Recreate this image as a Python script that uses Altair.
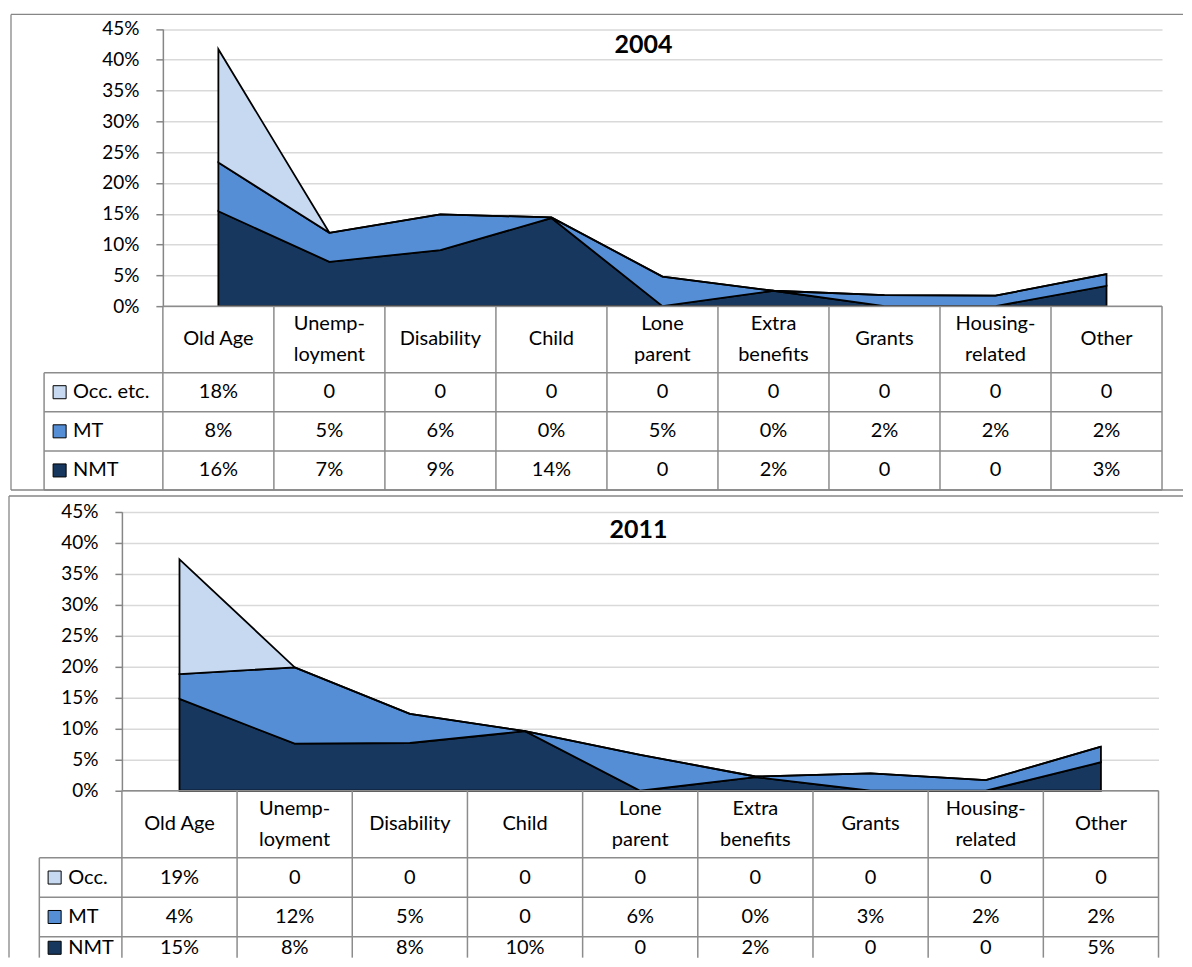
import altair as alt
import pandas as pd

# ---------------- data ----------------
CATEGORIES = ["Old Age", "Unemployment", "Disability", "Child", "Lone parent",
              "Extra benefits", "Grants", "Housing-related", "Other"]
HEADER_LABELS = [["Old Age"], ["Unemp-", "loyment"], ["Disability"], ["Child"],
                 ["Lone", "parent"], ["Extra", "benefits"], ["Grants"],
                 ["Housing-", "related"], ["Other"]]

# 2004 (percent of total)
NMT_2004 = [15.4, 7.2, 9.1, 14.3, 0.0, 2.5, 0.0, 0.0, 3.3]
MT_2004 = [7.9, 4.7, 5.8, 0.1, 4.8, 0.0, 1.8, 1.7, 1.9]
OCC_2004 = [18.4, 0.0, 0.0, 0.0, 0.0, 0.0, 0.0, 0.0, 0.0]
TBL_OCC_2004 = ["18%", "0", "0", "0", "0", "0", "0", "0", "0"]
TBL_MT_2004 = ["8%", "5%", "6%", "0%", "5%", "0%", "2%", "2%", "2%"]
TBL_NMT_2004 = ["16%", "7%", "9%", "14%", "0", "2%", "0", "0", "3%"]

# 2011
NMT_2011 = [14.8, 7.6, 7.7, 9.6, 0.0, 2.2, 0.0, 0.0, 4.6]
MT_2011 = [4.0, 12.3, 4.7, 0.0, 5.8, 0.1, 2.8, 1.7, 2.5]
OCC_2011 = [18.5, 0.0, 0.0, 0.0, 0.0, 0.0, 0.0, 0.0, 0.0]
TBL_OCC_2011 = ["19%", "0", "0", "0", "0", "0", "0", "0", "0"]
TBL_MT_2011 = ["4%", "12%", "5%", "0", "6%", "0%", "3%", "2%", "2%"]
TBL_NMT_2011 = ["15%", "8%", "8%", "10%", "0", "2%", "0", "0", "5%"]

Y_TICKS = [0, 5, 10, 15, 20, 25, 30, 35, 40, 45]

# ---------------- style / layout ----------------
SERIES = ["Occ", "MT", "NMT"]              # table rows, top to bottom
COLORS = ["#C6D9F1", "#558ED5", "#17375E"]
STACK_ORDER = {"NMT": 0, "MT": 1, "Occ": 2}
FONT = "Lato"
GRID = "#d9d9d9"
AXIS_GRAY = "#868686"
TABLE_GRAY = "#8c8c8c"
HEADER_ROWS = 1.7
ROW_UNITS = HEADER_ROWS + 3
LINE_STEP = 0.79          # header line spacing in row units
W = 1175

G2004 = dict(h=476, frame_left=2, frame_bottom=True,
             x_range=[154, 1154], y_range=[292, 14.5],
             row_range=[292, 476], rows_visible=ROW_UNITS, last_row_center=0.5,
             legend_left=-1.07, box_x=-0.93, text_x=-0.81,
             title_xy=(635, 31))
G2011 = dict(h=462, frame_left=0, frame_bottom=False,
             x_range=[113, 1150.5], y_range=[295, 15.7],
             row_range=[295, 480.6], rows_visible=4.23, last_row_center=0.28,
             legend_left=-0.717, box_x=-0.584, text_x=-0.466,
             title_xy=(630, 34))


def panel(title, nmt, mt, occ, occ_label, tbl_occ, tbl_mt, tbl_nmt, g):
    n = len(CATEGORIES)
    xs = alt.Scale(domain=[0, n], range=g["x_range"], nice=False, zero=False)
    ys = alt.Scale(domain=[0, 45], range=g["y_range"], nice=False)
    rs = alt.Scale(domain=[0, ROW_UNITS], range=g["row_range"], nice=False, zero=False)
    cs = alt.Scale(domain=SERIES, range=COLORS)

    rows = []
    for key, vals in (("NMT", nmt), ("MT", mt), ("Occ", occ)):
        for i, v in enumerate(vals):
            rows.append({"pos": i + 0.5, "value": v, "series": key,
                         "order": STACK_ORDER[key]})
    area_df = pd.DataFrame(rows)

    area = alt.Chart(area_df).mark_area(
        stroke="black", strokeWidth=1.8, strokeJoin="miter", opacity=1
    ).encode(
        x=alt.X("pos:Q", scale=xs, axis=None),
        y=alt.Y("value:Q", stack="zero", scale=ys,
                axis=alt.Axis(values=Y_TICKS, labelExpr="datum.value + '%'",
                              offset=-g["x_range"][0], grid=True, gridColor=GRID,
                              gridWidth=1.5, domainColor=AXIS_GRAY, domainWidth=1.5,
                              tickColor=AXIS_GRAY, tickSize=7, tickWidth=1.5,
                              labelFont=FONT, labelFontSize=19, labelColor="black",
                              labelPadding=17, title=None)),
        color=alt.Color("series:N", scale=cs, legend=None),
        order=alt.Order("order:Q"),
    )

    # table grid built from the table layout
    rv = g["rows_visible"]
    seg = []
    for y in [0, HEADER_ROWS, HEADER_ROWS + 1, HEADER_ROWS + 2, HEADER_ROWS + 3]:
        if y <= rv:
            seg.append({"x1": 0 if y == 0 else g["legend_left"], "x2": n, "y1": y, "y2": y})
    for i in range(n + 1):
        seg.append({"x1": i, "x2": i, "y1": 0, "y2": rv})
    seg.append({"x1": g["legend_left"], "x2": g["legend_left"], "y1": HEADER_ROWS, "y2": rv})
    seg_df = pd.DataFrame(seg)

    rules = alt.Chart(seg_df).mark_rule(color=TABLE_GRAY, strokeWidth=1.5).encode(
        x=alt.X("x1:Q", scale=xs, axis=None), x2="x2:Q",
        y=alt.Y("y1:Q", scale=rs, axis=None), y2="y2:Q",
    )

    head = []
    for i, lines in enumerate(HEADER_LABELS):
        k = len(lines)
        for j, line in enumerate(lines):
            head.append({"pos": i + 0.5,
                         "row": HEADER_ROWS / 2 + (j - (k - 1) / 2) * LINE_STEP,
                         "label": line})
    head_df = pd.DataFrame(head)
    heads = alt.Chart(head_df).mark_text(
        font=FONT, fontSize=20, color="black", baseline="middle", align="center"
    ).encode(
        x=alt.X("pos:Q", scale=xs, axis=None),
        y=alt.Y("row:Q", scale=rs, axis=None),
        text="label:N",
    )

    centers = [0.5, 0.5, g["last_row_center"]]
    cell = []
    for k, vals in enumerate((tbl_occ, tbl_mt, tbl_nmt)):
        for i, v in enumerate(vals):
            cell.append({"pos": i + 0.5, "row": HEADER_ROWS + k + centers[k], "label": v})
    cell_df = pd.DataFrame(cell)
    cells = alt.Chart(cell_df).mark_text(
        font=FONT, fontSize=20, color="black", baseline="middle", align="center"
    ).encode(
        x=alt.X("pos:Q", scale=xs, axis=None),
        y=alt.Y("row:Q", scale=rs, axis=None),
        text="label:N",
    )

    leg_df = pd.DataFrame({
        "series": SERIES,
        "label": [occ_label, "MT", "NMT"],
        "row": [HEADER_ROWS + k + centers[k] for k in range(3)],
        "bx": [g["box_x"]] * 3,
        "tx": [g["text_x"]] * 3,
    })
    boxes = alt.Chart(leg_df).mark_square(
        size=170, filled=True, stroke="black", strokeWidth=1, opacity=1
    ).encode(
        x=alt.X("bx:Q", scale=xs, axis=None),
        y=alt.Y("row:Q", scale=rs, axis=None),
        color=alt.Color("series:N", scale=cs, legend=None),
    )
    leg_text = alt.Chart(leg_df).mark_text(
        font=FONT, fontSize=20, color="black", baseline="middle", align="left"
    ).encode(
        x=alt.X("tx:Q", scale=xs, axis=None),
        y=alt.Y("row:Q", scale=rs, axis=None),
        text="label:N",
    )

    table = alt.layer(rules, heads, cells, boxes, leg_text)

    ttl = alt.Chart(pd.DataFrame({"t": [title]})).mark_text(
        font=FONT, fontSize=25, fontWeight="bold", color="black",
        baseline="middle", align="center"
    ).encode(text="t:N", x=alt.value(g["title_xy"][0]), y=alt.value(g["title_xy"][1]))

    # panel frame (top, left and, when visible, bottom edge)
    fl, h = g["frame_left"], g["h"]
    frame_parts = [
        alt.Chart(pd.DataFrame({"f": [0]})).mark_rule(color=AXIS_GRAY, strokeWidth=1.3).encode(
            x=alt.value(fl), x2=alt.value(W), y=alt.value(0)),
        alt.Chart(pd.DataFrame({"f": [0]})).mark_rule(color=AXIS_GRAY, strokeWidth=1.3).encode(
            x=alt.value(fl), y=alt.value(0), y2=alt.value(h)),
    ]
    if g["frame_bottom"]:
        frame_parts.append(
            alt.Chart(pd.DataFrame({"f": [0]})).mark_rule(color=AXIS_GRAY, strokeWidth=1.3).encode(
                x=alt.value(fl), x2=alt.value(W), y=alt.value(h)))

    return alt.layer(area, table, ttl, *frame_parts).resolve_scale(y="independent").properties(
        width=W, height=h)


p1 = panel("2004", NMT_2004, MT_2004, OCC_2004, "Occ. etc.",
           TBL_OCC_2004, TBL_MT_2004, TBL_NMT_2004, G2004)
p2 = panel("2011", NMT_2011, MT_2011, OCC_2011, "Occ.",
           TBL_OCC_2011, TBL_MT_2011, TBL_NMT_2011, G2011)

chart = alt.vconcat(p1, p2, spacing=6, bounds="flush").properties(
    padding={"left": 0, "top": 5, "right": 0, "bottom": 0},
    background="white",
).configure_view(stroke=None)

chart.save("out.html", embed_options={"renderer": "svg", "actions": False})
